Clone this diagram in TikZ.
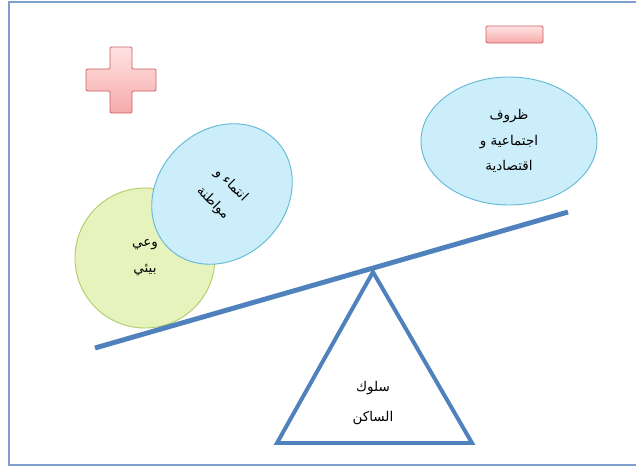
\documentclass[tikz,border=0pt]{standalone}
\usepackage{fontspec}
\usepackage{xcolor}
\usepackage{tikz}
\usetikzlibrary{shapes.geometric}
\newfontfamily\arabicfont[Script=Arabic]{DejaVu Sans}
\TeXXeTstate=1
\newcommand{\arline}[1]{\beginR #1\endR}
\definecolor{beamblue}{RGB}{79,129,189}
\definecolor{framecol}{RGB}{126,158,208}
\definecolor{signred}{RGB}{204,96,96}
\definecolor{signpink}{RGB}{246,170,170}
\definecolor{signlight}{RGB}{255,226,226}
\definecolor{bubbleblue}{RGB}{204,238,250}
\definecolor{bubbleline}{RGB}{100,186,214}
\definecolor{bubblegreen}{RGB}{230,243,188}
\definecolor{greenline}{RGB}{178,206,108}
\tikzset{
  bubble/.style={ellipse, draw=bubbleline, fill=bubbleblue, line width=0.8pt, inner sep=0pt,
    align=center, font=\arabicfont\fontsize{11.5}{22}\selectfont},
  sign/.style={draw=signred, line width=0.8pt, top color=signlight, bottom color=signpink},
}

\begin{document}
\begin{tikzpicture}[x=0.03cm, y=-0.03cm]
    \useasboundingbox (0,0) rectangle (636,466);
    \draw[color=framecol, line width=1.6pt] (9,2) rectangle (660,465);
    \draw[sign, rounded corners=1pt] (110,47) -- (132,47) -- (132,69) -- (156,69) -- (156,91) -- (132,91) -- (132,113) -- (110,113) -- (110,91) -- (86,91) -- (86,69) -- (110,69) -- cycle;
    \draw[sign, rounded corners=1pt] (486,26) rectangle (543,43);
    \node[bubble, draw=greenline, fill=bubblegreen, minimum size=4.2cm] (wa3i) at (145,258) {\arline{وعي}\\\arline{بيئي}};
    \node[bubble, rotate=-45, minimum width=3.84cm, minimum height=4.56cm] (intima) at (222,194) {\arline{انتماء و}\\\arline{مواطنة}};
    \node[bubble, minimum width=5.28cm, minimum height=3.84cm] (zurouf) at (509,141) {\arline{ظروف}\\\arline{اجتماعية و}\\\arline{اقتصادية}};
    \coordinate (apex) at (373,272);
    \coordinate (baseL) at (277,443);
    \coordinate (baseR) at (472,443);
    \draw[color=beamblue, line width=3.4pt] (apex) -- (baseR) -- (baseL) -- cycle;
    \coordinate (beamL) at (95,348);
    \coordinate (beamR) at (568,212);
    \draw[color=beamblue, line width=4.2pt] (beamL) -- (beamR);
    \node[align=center, font=\arabicfont\fontsize{11.5}{26}\selectfont] (suluk) at (373,403) {\arline{سلوك}\\\arline{الساكن}};
\end{tikzpicture}
\end{document}
